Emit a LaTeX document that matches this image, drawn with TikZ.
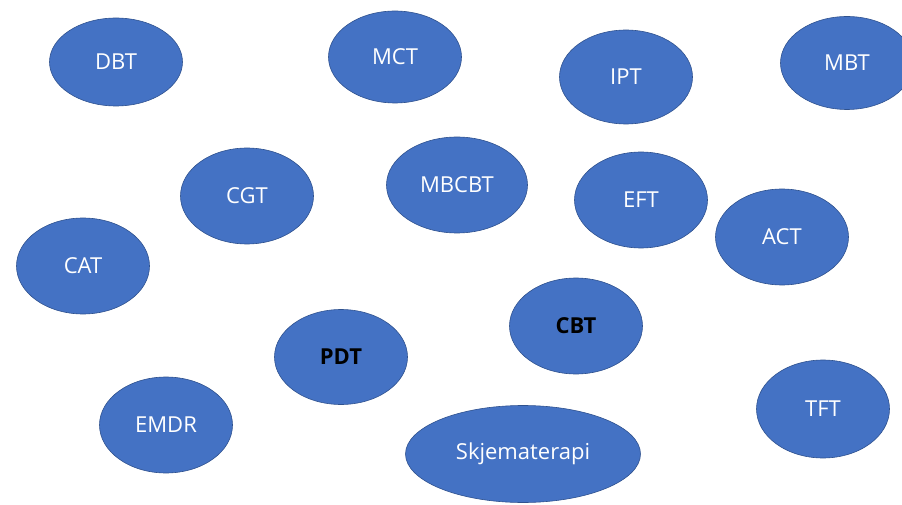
\documentclass[tikz,border=0pt]{standalone}
\usepackage{fontspec}
\setmainfont{Open Sans}
\usetikzlibrary{shapes.geometric}
\definecolor{officeblue}{HTML}{4472C4}
\definecolor{officeedge}{HTML}{2F528F}

\begin{document}
\begin{tikzpicture}[x=1pt,y=1pt,
    therapy/.style={ellipse,draw=officeedge,fill=officeblue,line width=0.6pt,
      inner sep=0pt,minimum width=133pt,minimum height=96pt,
      text=white,font=\fontsize{22}{26}\selectfont},
    main/.style={therapy,text=black,font=\fontsize{22}{26}\selectfont\bfseries}]

    \useasboundingbox (0,0) rectangle (902,504);

    % Top row.
    \node[therapy,minimum height=88pt] (DBT) at (116,442) {DBT};
    \node[therapy,minimum height=92pt] (MCT) at (395,447) {MCT};
    \node[therapy,minimum height=94pt] (IPT) at (626,427) {IPT};
    \node[therapy,minimum height=93pt] (MBT) at (847,441) {MBT};

    % Middle rows.
    \node[therapy] (CGT) at (247,308) {CGT};
    \node[therapy,minimum width=141pt] (MBCBT) at (457,319) {MBCBT};
    \node[therapy] (EFT) at (641,304) {EFT};
    \node[therapy] (ACT) at (782,267) {ACT};
    \node[therapy] (CAT) at (83,238) {CAT};

    % The two bold ones.
    \node[main] (CBT) at (576,178) {CBT};
    \node[main,minimum height=95pt] (PDT) at (341,147) {PDT};

    % Bottom row.
    \node[therapy] (EMDR) at (166,79) {EMDR};
    \node[therapy,minimum height=98pt] (TFT) at (823,95) {TFT};
    \node[therapy,minimum width=235pt,minimum height=97pt] (Skjema) at (523,50) {Skjematerapi};
    %
\end{tikzpicture}
\end{document}
